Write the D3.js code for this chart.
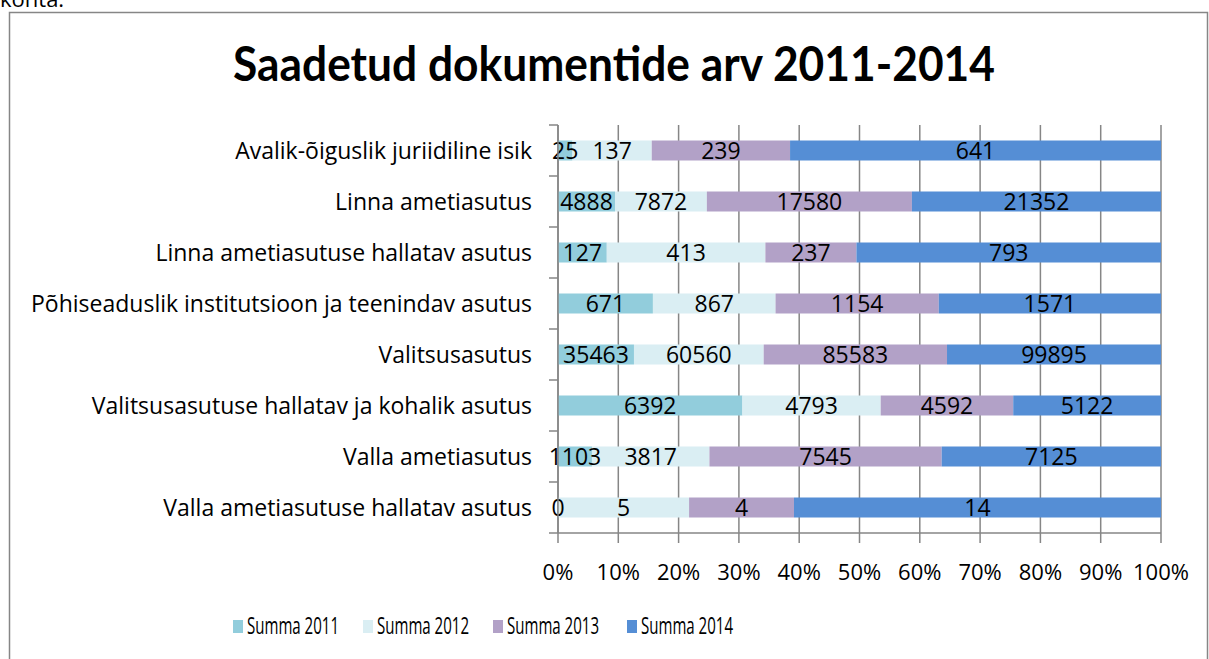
<!DOCTYPE html>
<html><head><meta charset="utf-8">
<script src="https://cdn.jsdelivr.net/npm/d3@7"></script>
<style>body{margin:0;background:#fff}svg{display:block}text{font-family:"Open Sans",sans-serif}</style>
</head><body>
<svg id="c" width="1209" height="659"></svg>
<script>
const categories = [
  "Avalik-õiguslik juriidiline isik",
  "Linna ametiasutus",
  "Linna ametiasutuse hallatav asutus",
  "Põhiseaduslik institutsioon ja teenindav asutus",
  "Valitsusasutus",
  "Valitsusasutuse hallatav ja kohalik asutus",
  "Valla ametiasutus",
  "Valla ametiasutuse hallatav asutus"
];
const seriesNames = ["Summa 2011", "Summa 2012", "Summa 2013", "Summa 2014"];
const summa2011 = [25, 4888, 127, 671, 35463, 6392, 1103, 0];
const summa2012 = [137, 7872, 413, 867, 60560, 4793, 3817, 5];
const summa2013 = [239, 17580, 237, 1154, 85583, 4592, 7545, 4];
const summa2014 = [641, 21352, 793, 1571, 99895, 5122, 7125, 14];
const tickLabels = ["0%","10%","20%","30%","40%","50%","60%","70%","80%","90%","100%"];
const colors = ["#92CDDC", "#DAEEF3", "#B2A1C7", "#558ED5"];

const seriesValues = [summa2011, summa2012, summa2013, summa2014];
const rows = categories.map((c, i) => {
  const r = {cat: c};
  seriesNames.forEach((s, j) => r[s] = seriesValues[j][i]);
  return r;
});
const stack = d3.stack().keys(seriesNames).offset(d3.stackOffsetExpand);
const stacked = stack(rows);

const svg = d3.select("#c");
svg.append("text").attr("x", 0).attr("y", 7).attr("font-size", 22).text("kohta.");
svg.append("rect").attr("x", 9.5).attr("y", 12.5).attr("width", 1198).attr("height", 660)
  .attr("fill", "none").attr("stroke", "#868686").attr("stroke-width", 1.5);

svg.append("text").attr("x", 614).attr("y", 81).attr("text-anchor", "middle")
  .style("font-family", "Lato, sans-serif")
  .attr("font-size", 48).attr("font-weight", "bold")
  .attr("textLength", 762).attr("lengthAdjust", "spacingAndGlyphs")
  .text("Saadetud dokumentide arv 2011-2014");

const x0 = 558, x1 = 1161, yTop = 125, yBot = 533;
const x = d3.scaleLinear().domain([0, 1]).range([x0, x1]);
const yb = d3.scaleBand().domain(categories).range([yTop, yBot]);

const ticks = d3.range(0, 11).map(d => d / 10);
svg.append("g").selectAll("line").data(ticks).join("line")
  .attr("x1", d => x(d)).attr("x2", d => x(d)).attr("y1", yTop).attr("y2", yBot + 10)
  .attr("stroke", "#868686").attr("stroke-width", 1.5);

const g = svg.append("g");
stacked.forEach((s, j) => {
  g.selectAll(null).data(s).join("rect")
    .attr("x", d => x(d[0])).attr("width", d => x(d[1]) - x(d[0]))
    .attr("y", (d, i) => yb(categories[i]) + yb.bandwidth() / 2 - 10).attr("height", 20)
    .attr("fill", colors[j]);
});
stacked.forEach((s, j) => {
  g.selectAll(null).data(s).join("text")
    .attr("x", d => (x(d[0]) + x(d[1])) / 2)
    .attr("y", (d, i) => yb(categories[i]) + yb.bandwidth() / 2 + 8)
    .attr("text-anchor", "middle").attr("font-size", 23).attr("fill", "#000")
    .text((d, i) => seriesValues[j][i]);
});

svg.append("line").attr("x1", x0).attr("x2", x1).attr("y1", yBot).attr("y2", yBot).attr("stroke", "#868686").attr("stroke-width", 1.5);
svg.append("line").attr("x1", x0).attr("x2", x0).attr("y1", yTop).attr("y2", yBot).attr("stroke", "#868686").attr("stroke-width", 1.5);
svg.append("g").selectAll("line").data(d3.range(0, 9)).join("line")
  .attr("x1", x0 - 9).attr("x2", x0).attr("y1", d => yTop + d * yb.step()).attr("y2", d => yTop + d * yb.step())
  .attr("stroke", "#868686").attr("stroke-width", 1.5);

svg.append("g").selectAll("text").data(ticks).join("text")
  .attr("x", d => x(d)).attr("y", 580).attr("text-anchor", "middle").attr("font-size", 22)
  .text((d, i) => tickLabels[i]);

svg.append("g").selectAll("text").data(categories).join("text")
  .attr("x", 532).attr("y", d => yb(d) + yb.bandwidth() / 2 + 8).attr("text-anchor", "end")
  .attr("font-size", 23).text(d => d);

const lx = [233, 363, 493, 627];
const lg = svg.append("g").selectAll("g").data(seriesNames).join("g")
  .attr("transform", (d, i) => `translate(${lx[i]},620)`);
lg.append("rect").attr("width", 10).attr("height", 13).attr("fill", (d, i) => colors[i]);
lg.append("text").attr("x", 14).attr("y", 14).attr("font-size", 23)
  .attr("textLength", 92).attr("lengthAdjust", "spacingAndGlyphs").text(d => d);
</script>
</body></html>
